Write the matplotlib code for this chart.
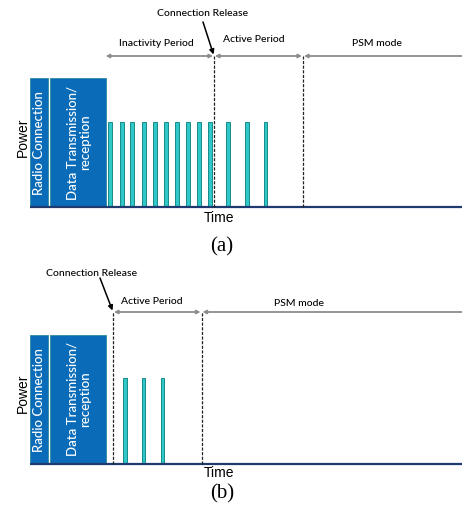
import matplotlib.pyplot as plt
from matplotlib.patches import Rectangle

# panel (a): times are in horizontal pixel units, power in vertical pixel units
a_pulses = [110, 122, 132, 144, 155, 166, 177, 188, 199, 210, 228, 247, 265.5]
a_pulse_height = 85
a_box_height = 129
a_release = 214
a_active_end = 303
a_arrow_level = 151

# panel (b)
b_pulses = [125, 143.7, 162.3]
b_pulse_height = 86
b_box_height = 129
b_release = 113
b_active_end = 201.5
b_arrow_level = 152

radio_box = (30, 47.7)
data_box = (50, 105.7)

BOX = '#0a6cb8'
PULSE = '#2fc8c8'
PULSE_EDGE = '#178a8a'
BASE = '#1f3a6e'
GREY = '#8c8c8c'
LBL = 'Lato'

fig = plt.figure(figsize=(4.62, 5.16), dpi=100)


def panel(ax, pulses, ph, bh, release, active_end, level, inactivity,
          rel_text_x, rel_text_y, rel_arrow_from, time_y, cap, cap_y, power_y):
    ax.set_axis_off()
    ax.set_xlim(0, 462)

    # boxes
    for (x0, x1) in [radio_box, data_box]:
        ax.add_patch(Rectangle((x0, 0), x1 - x0, bh, facecolor=BOX,
                               edgecolor='#2d8c9c', lw=0.6, zorder=2))
    ax.text(sum(radio_box) / 2, bh / 2 - 1, 'Radio Connection', rotation=90,
            color='white', ha='center', va='center', fontsize=9.5, family=LBL,
            weight='medium')
    ax.text(sum(data_box) / 2 + 1, bh / 2, 'Data Transmission/\nreception',
            rotation=90, color='white', ha='center', va='center',
            fontsize=9.5, family=LBL, linespacing=1.05, weight='medium')

    # pulses
    for t in pulses:
        ax.add_patch(Rectangle((t - 1.8, 0), 3.6, ph, facecolor=PULSE,
                               edgecolor=PULSE_EDGE, lw=0.7, zorder=2))

    # baseline
    ax.plot([30, 462], [0, 0], color=BASE, lw=1.6, zorder=3,
            solid_capstyle='butt')

    # dashed markers
    for x in [release, active_end]:
        ax.plot([x, x], [0, level], color='#222222', lw=0.9, ls=(0, (2.5, 1.2)),
                zorder=3)

    # period arrows
    akw = dict(arrowstyle='<|-|>', color=GREY, lw=1.3, mutation_scale=5,
               shrinkA=0, shrinkB=0)
    if inactivity:
        ax.annotate('', xy=(data_box[1], level), xytext=(release - 1, level),
                    arrowprops=akw)
        ax.text((data_box[1] + release) / 2 - 3, level + 12,
                'Inactivity Period', ha='center', va='center', fontsize=7.5,
                family=LBL, weight='medium')
    ax.annotate('', xy=(release + 1, level), xytext=(active_end - 1, level),
                arrowprops=akw)
    ax.annotate('', xy=(active_end + 1, level), xytext=(462, level),
                arrowprops=dict(arrowstyle='-|>', color=GREY, lw=1.3,
                                mutation_scale=5, shrinkA=0, shrinkB=0))
    ax.text((release + active_end) / 2 - 5, level + (17 if inactivity else 10),
            'Active Period', ha='center', va='center', fontsize=7.5,
            family=LBL, weight='medium')
    ax.text(active_end + (74 if inactivity else 98),
            level + 13 if inactivity else level + 9,
            'PSM mode', ha='center', va='center', fontsize=7.5, family=LBL,
            weight='medium')

    # connection release callout
    ax.text(rel_text_x, rel_text_y, 'Connection Release', ha='center',
            va='center', fontsize=7.5, family=LBL, weight='medium')
    ax.annotate('', xy=(release - 0.5, level + 1.5), xytext=rel_arrow_from,
                arrowprops=dict(arrowstyle='-|>', color='black', lw=1.1,
                                mutation_scale=7, shrinkA=0, shrinkB=0))

    ax.text(16, power_y, 'Power', rotation=90, ha='left', va='center',
            fontsize=10, family='Liberation Sans')
    ax.text(219, time_y, 'Time', ha='center', va='center', fontsize=10,
            family='Liberation Sans')
    ax.text(222, cap_y, cap, ha='center', va='center', fontsize=15,
            family='Liberation Serif')


# panel (a): rows 0..258 px, baseline at row 207
ax_a = fig.add_axes([0, 258 / 516, 1, 258 / 516])
ax_a.set_ylim(-51, 207)
panel(ax_a, a_pulses, a_pulse_height, a_box_height, a_release, a_active_end,
      a_arrow_level, True, 203, 194, (203, 185), -11, '(a)', -40, 70)

# panel (b): rows 258..516 px, baseline at row 464
ax_b = fig.add_axes([0, 0, 1, 258 / 516])
ax_b.set_ylim(-52, 206)
panel(ax_b, b_pulses, b_pulse_height, b_box_height, b_release, b_active_end,
      b_arrow_level, False, 92, 191, (100, 186), -9, '(b)', -30, 71)

fig.savefig('out.png', dpi=100)
